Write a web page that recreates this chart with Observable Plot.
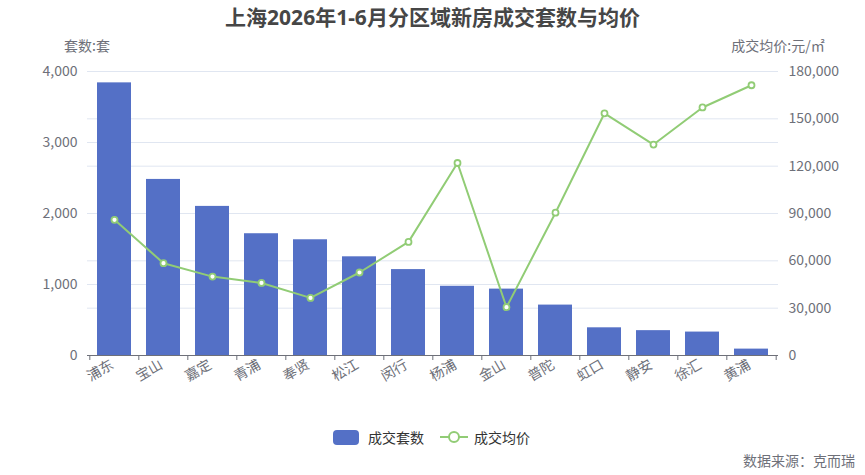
<!DOCTYPE html>
<html>
<head>
<meta charset="utf-8">
<script src="https://cdn.jsdelivr.net/npm/d3@7"></script>
<script src="https://cdn.jsdelivr.net/npm/@observablehq/plot@0.6"></script>
<style>
  html, body { margin: 0; padding: 0; background: #fff; }
  body { font-family: "Noto Sans CJK SC", "Noto Sans", sans-serif; }
  #wrap { position: relative; width: 865px; height: 475px; overflow: hidden; }
  #title { position: absolute; left: 0; top: 2px; width: 865px; text-align: center;
    font-family: "Noto Sans", "Noto Sans CJK SC", sans-serif;
    font-size: 21px; font-weight: 700; color: #464646; line-height: 30px; }
  #chart { position: absolute; left: 0; top: 30px; }
  .axname { position: absolute; font-size: 14px; color: #6e7079; line-height: 20px; white-space: nowrap; transform: translateX(-50%); }
  #legend { position: absolute; top: 427px; left: 0; width: 865px; height: 20px; font-size: 14px; color: #333; }
  .lg { position: absolute; top: 0; line-height: 20px; white-space: nowrap; }
  #source { position: absolute; right: 10px; top: 450px; font-size: 14px; color: #6e7079; line-height: 20px; }
</style>
</head>
<body>
<div id="wrap">
  <div id="title">上海2026年1-6月分区域新房成交套数与均价</div>
  <div id="chart"></div>
  <div class="axname" style="left:87px; top:35px;">套数:套</div>
  <div class="axname" style="left:778px; top:35px;">成交均价:元/㎡</div>
  <div id="legend">
    <div class="lg" style="left:333px; top:3px; width:26px; height:15px; background:#5470c6; border-radius:4px;"></div>
    <div class="lg" style="left:368px;">成交套数</div>
    <svg class="lg" style="left:440px;" width="28" height="20">
      <line x1="0" y1="10" x2="28" y2="10" stroke="#91cc75" stroke-width="2"></line>
      <circle cx="14" cy="10" r="5" fill="#fff" stroke="#91cc75" stroke-width="2"></circle>
    </svg>
    <div class="lg" style="left:474px;">成交均价</div>
  </div>
  <div id="source">数据来源：克而瑞</div>
</div>
<script>
const districts = ["浦东","宝山","嘉定","青浦","奉贤","松江","闵行","杨浦","金山","普陀","虹口","静安","徐汇","黄浦"];
const counts = [3840, 2480, 2100, 1715, 1630, 1390, 1210, 975, 935, 710, 390, 350, 330, 90];
const prices = [86000, 58500, 50000, 46000, 36500, 52600, 72000, 122000, 30600, 90500, 153500, 133700, 157200, 171300];
const countTicks = [0, 1000, 2000, 3000, 4000];
const priceTicks = [0, 30000, 60000, 90000, 120000, 150000, 180000];

const countMax = 4000, priceMax = 180000;
const k = priceMax / countMax;
const data = districts.map((d, i) => ({district: d, count: counts[i], price: prices[i], py: prices[i] / k}));
const priceTickPos = priceTicks.map(t => t / k);

const W = 865, ML = 87, MR = 87;
const step = (W - ML - MR) / districts.length;
const fmt = d3.format(",");

const chart = Plot.plot({
  width: W,
  height: 390,
  marginTop: 41,
  marginBottom: 65,
  marginLeft: ML,
  marginRight: MR,
  style: {fontFamily: '"Noto Sans CJK SC", "Noto Sans", sans-serif', fontSize: "14px", color: "#6e7079", background: "transparent"},
  x: {domain: districts, paddingInner: 0.3, paddingOuter: 0.15, axis: null},
  y: {domain: [0, countMax], axis: null},
  marks: [
    Plot.ruleY(countTicks, {stroke: "#e0e6f1", strokeWidth: 1}),
    Plot.ruleY(priceTickPos, {stroke: "#e0e6f1", strokeWidth: 1}),
    Plot.barY(data, {x: "district", y: "count", fill: "#5470c6"}),
    Plot.ruleY([0], {stroke: "#6e7079", strokeWidth: 1}),
    Plot.ruleX(districts, {x: d => d, y1: 0, y2: 0, insetBottom: -5, dx: -step / 2, stroke: "#6e7079"}),
    Plot.ruleX(districts.slice(-1), {x: d => d, y1: 0, y2: 0, insetBottom: -5, dx: step / 2, stroke: "#6e7079"}),
    Plot.axisY(countTicks, {anchor: "left", tickSize: 0, tickPadding: 10, tickFormat: fmt, label: null, fontSize: 14}),
    Plot.axisY(priceTickPos, {anchor: "right", tickSize: 0, tickPadding: 10, tickFormat: d => fmt(Math.round(d * k)), label: null, fontSize: 14}),
    Plot.axisX(districts, {anchor: "bottom", tickSize: 0, tickPadding: 8, tickRotate: -30, label: null, fontSize: 14, dx: -2}),
    Plot.line(data, {x: "district", y: "py", stroke: "#91cc75", strokeWidth: 2}),
    Plot.dot(data, {x: "district", y: "py", r: 3, fill: "#fff", stroke: "#91cc75", strokeWidth: 1.8})
  ]
});
document.getElementById("chart").appendChild(chart);
</script>
</body>
</html>
